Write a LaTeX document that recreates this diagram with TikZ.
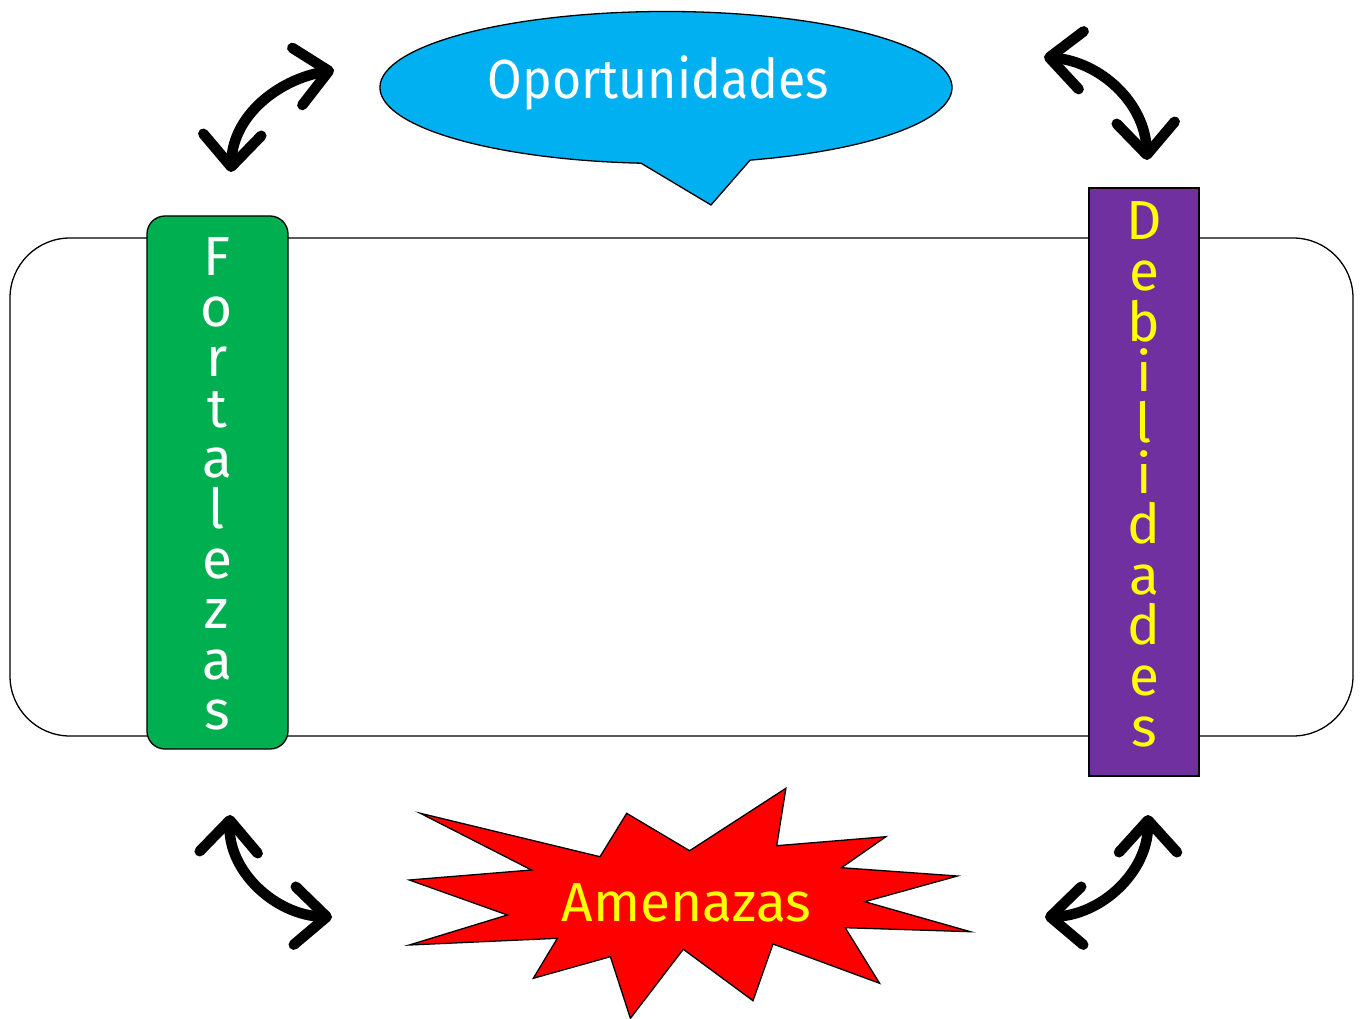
\documentclass[tikz,border=0pt]{standalone}
\usepackage{fontspec}
\setmainfont{Fira Sans}
\usetikzlibrary{arrows.meta}
\definecolor{azul}{HTML}{00B0F0}
\definecolor{verde}{HTML}{00B050}
\definecolor{morado}{HTML}{7030A0}
\definecolor{rojo}{HTML}{FF0000}
\definecolor{amarillo}{HTML}{FFFF00}
\tikzset{
	letra/.style={anchor=base, inner sep=0pt, font=\fontsize{55}{60}\selectfont},
	flecha/.style={line width=10.5pt, line cap=round, >={Straight Barb[length=32pt,width=58pt,round]}, <->},
	borde/.style={draw=black, line width=1.3pt}
}
\begin{document}
\begin{tikzpicture}[x=1pt, y=1pt]
	\useasboundingbox (0,0) rectangle (1363,-1019);
	\draw[borde, rounded corners=60pt] (10,-238) rectangle (1353,-736);
	\filldraw[borde, fill=verde, rounded corners=18pt] (147,-216) rectangle (288,-749);
	\filldraw[borde, fill=morado] (1089,-188) rectangle (1199,-776);
	\foreach \i\l in {0/F,1/o,2/r,3/t,4/a,5/l,6/e,7/z,8/a,9/s}{
		\node[letra, text=white] (f\i) at (217, -276-\i*50.4) {\l};
	}
	\foreach \i\l in {0/D,1/e,2/b,3/i,4/l,5/i,6/d,7/a,8/d,9/e,10/s}{
		\node[letra, text=amarillo] (d\i) at (1144, -240-\i*50.6) {\l};
	}
	\filldraw[borde, fill=azul] (666,-87.5) ++(-72.9:286 and 76)
		arc[start angle=-72.9, end angle=265, x radius=286, y radius=76]
		-- (711,-205) -- cycle;
	\node[letra, text=white] (opor) at (658.5,-99) {\addfontfeature{FakeStretch=0.91}Oportunidades};
	\filldraw[borde, fill=rojo] (420.4,-813.3) -- (600,-856.7) -- (626.7,-813.3) -- (689.6,-850.7)
		-- (785.9,-788.3) -- (776.7,-845.7) -- (885.9,-836.7) -- (841.5,-867.7)
		-- (957.4,-876) -- (864.8,-901.7) -- (970.4,-931.7) -- (845.2,-927.7)
		-- (879.6,-983.3) -- (773,-944) -- (753,-1000.7) -- (683.3,-949.3)
		-- (630.4,-1018.3) -- (610.4,-956.7) -- (533.3,-978.3) -- (557.4,-938.3)
		-- (409.3,-945) -- (507.4,-915) -- (409.3,-880) -- (531.5,-870) -- cycle;
	\node[letra, text=amarillo] (amen) at (686.5,-921) {Amenazas};
	\coordinate (tl1) at (231,-172);
	\coordinate (tl2) at (334,-70);
	\coordinate (tr1) at (1044,-57);
	\coordinate (tr2) at (1147,-160);
	\coordinate (bl1) at (230,-815);
	\coordinate (bl2) at (332,-917);
	\coordinate (br1) at (1045,-917);
	\coordinate (br2) at (1148,-815);
	\draw[flecha] (tl1) to[out=88, in=190] (tl2);
	\draw[flecha] (tr1) to[out=-5, in=92] (tr2);
	\draw[flecha] (bl1) to[out=-92, in=178] (bl2);
	\draw[flecha] (br1) to[out=2, in=-90] (br2);
\end{tikzpicture}
\end{document}
